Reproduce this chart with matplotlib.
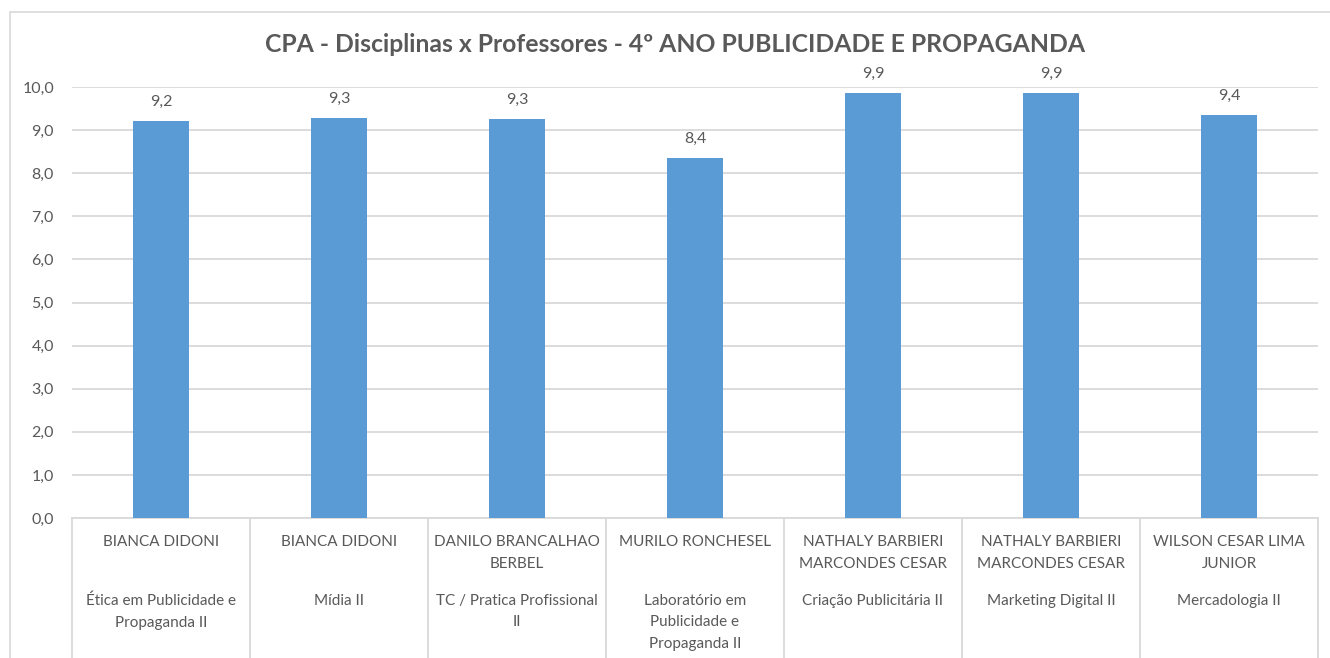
import matplotlib
matplotlib.use("Agg")
import matplotlib.pyplot as plt
from matplotlib.patches import Rectangle

# Data
professores = ["BIANCA DIDONI", "BIANCA DIDONI", "DANILO BRANCALHAO\nBERBEL",
               "MURILO RONCHESEL", "NATHALY BARBIERI\nMARCONDES CESAR",
               "NATHALY BARBIERI\nMARCONDES CESAR", "WILSON CESAR LIMA\nJUNIOR"]
disciplinas = ["Ética em Publicidade e\nPropaganda II", "Mídia II",
               "TC / Pratica Profissional\nII", "Laboratório em\nPublicidade e\nPropaganda II",
               "Criação Publicitária II", "Marketing Digital II", "Mercadologia II"]
notas = [9.21, 9.28, 9.26, 8.36, 9.86, 9.86, 9.36]
yticks = [0, 1, 2, 3, 4, 5, 6, 7, 8, 9, 10]

plt.rcParams['font.family'] = ['Lato', 'DejaVu Sans']
cinza = '#595959'
grade = '#d9d9d9'

W, H = 1330, 658
fig = plt.figure(figsize=(W / 100, H / 100), dpi=100)

# outer chart border
fig.patches.append(Rectangle((10 / W, -0.1), 1.2, 1 - 12 / H + 0.1, transform=fig.transFigure,
                             fill=False, edgecolor=grade, lw=1.2))

x0, x1, y0, y1 = 72, 1318, 518, 87
ax = fig.add_axes([x0 / W, 1 - y0 / H, (x1 - x0) / W, (y0 - y1) / H])

xs = list(range(len(notas)))
ax.bar(xs, notas, width=0.315, color='#5b9bd5', zorder=3)
for x, v in zip(xs, notas):
    ax.annotate(f"{v:.1f}".replace('.', ','), (x, v), xytext=(0, 8.5), textcoords='offset points',
                ha='center', va='bottom', fontsize=11.5, color=cinza, annotation_clip=False)

ax.set_xlim(-0.5, len(notas) - 0.5)
ax.set_ylim(0, 10)
ax.set_yticks(yticks)
ax.set_yticklabels([f"{t:.1f}".replace('.', ',') for t in yticks])
ax.tick_params(axis='y', length=0, labelsize=11.5, labelcolor=cinza, pad=13)
ax.set_xticks([])
ax.yaxis.grid(True, color=grade, lw=1.3, zorder=0)
for s in ['top', 'right', 'left']:
    ax.spines[s].set_visible(False)
ax.spines['bottom'].set_color(grade)
ax.spines['bottom'].set_linewidth(1.3)

# multi-level category table under the axis
tb = ('data', 'axes fraction')
for i in range(len(notas) + 1):
    ax.annotate('', xy=(i - 0.5, 0), xycoords=tb, xytext=(0, -150), textcoords='offset points',
                arrowprops=dict(arrowstyle='-', color=grade, lw=1.3, shrinkA=0, shrinkB=0),
                annotation_clip=False)
for i, (p, d) in enumerate(zip(professores, disciplinas)):
    ax.annotate(p, xy=(i, 0), xycoords=tb, xytext=(0, -12), textcoords='offset points',
                ha='center', va='top', fontsize=11, color=cinza, linespacing=1.75,
                annotation_clip=False)
    ax.annotate(d, xy=(i, 0), xycoords=tb, xytext=(0, -54.5), textcoords='offset points',
                ha='center', va='top', fontsize=11, color=cinza, linespacing=1.7,
                annotation_clip=False)

fig.text(675 / W, 1 - 45 / H, "CPA - Disciplinas x Professores - 4º ANO PUBLICIDADE E PROPAGANDA",
         ha='center', va='center', fontsize=17.8, fontweight='bold', color=cinza)

fig.savefig('out.png', dpi=100)
